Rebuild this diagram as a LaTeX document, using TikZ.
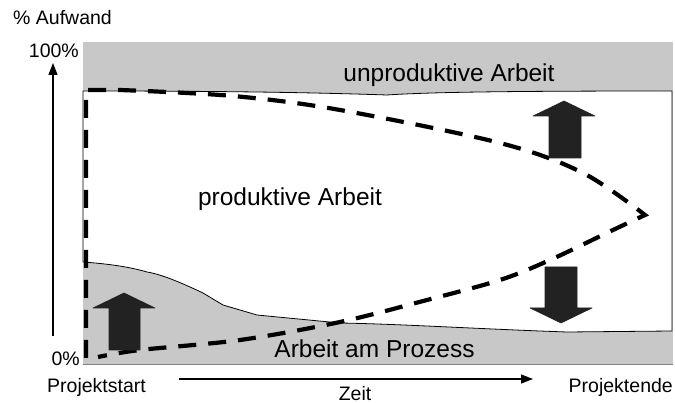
\documentclass[tikz,border=0pt]{standalone}
\usepackage{fontspec}
\setmainfont{Liberation Sans}
\usetikzlibrary{arrows.meta}
\definecolor{areagray}{RGB}{200,200,200}
\definecolor{edgegray}{RGB}{130,130,130}
\definecolor{blockdark}{RGB}{34,34,34}
\tikzset{
  boxlabel/.style={font=\fontsize{24.5}{29}\selectfont, inner sep=0pt, anchor=base},
  axislabel/.style={font=\fontsize{19.5}{23}\selectfont, inner sep=0pt},
  axisline/.style={line width=1.3pt, -{Triangle[length=12pt,width=9pt]}},
  trendline/.style={line width=4.2pt, dash pattern=on 18pt off 12pt},
  blockarrow/.style={fill=blockdark, draw=blockdark, line width=0.6pt, line join=round},
}
\begin{document}
\begin{tikzpicture}[x=1pt,y=-1pt]
  \useasboundingbox (0,0) rectangle (675,403);

  % shaded background: unproductive (top) and process work (bottom)
  \fill[areagray] (83,42) rectangle (673,364);
  \draw[edgegray, line width=0.8pt] (83,364) -- (673,364);

  % productive work region
  \draw[fill=white, line width=0.8pt]
    (83,91) .. controls (200,91) and (300,92) .. (387,95)
    .. controls (430,92) and (520,91) .. (672,91)
    -- (672,331)
    -- (567,332)
    .. controls (480,329) and (400,324) .. (340,323)
    -- (257,315) -- (223,305) -- (203,293)
    .. controls (180,282) and (160,274) .. (147,272)
    .. controls (130,267) and (110,264) .. (83,262)
    -- cycle;

  % dashed envelope
  \draw[trendline]
    (86,358) -- (86,90) -- (120,90)
    -- plot[smooth, tension=0.55] coordinates {(120,90) (233,96) (340,110) (500,143) (583,173) (645,215)}
    -- plot[smooth, tension=0.55] coordinates {(645,215) (613,230) (550,260) (500,280) (427,300) (340,322) (240,340) (140,350) (98,357)};

  % block arrows
  \draw[blockarrow] (109,350) -- (109,308) -- (93,308) -- (124,293) -- (155,308) -- (140,308) -- (140,350) -- cycle;
  \draw[blockarrow] (549,158) -- (549,116) -- (533,116) -- (564,101) -- (595,116) -- (581,116) -- (581,158) -- cycle;
  \draw[blockarrow] (545,267) -- (545,308) -- (530,308) -- (561,323) -- (592,308) -- (577,308) -- (577,267) -- cycle;

  % region labels
  \node[boxlabel] (unprod) at (449,82) {unproduktive Arbeit};
  \node[boxlabel] (prod) at (290,206) {produktive Arbeit};
  \node[boxlabel] (proc) at (374.5,358) {Arbeit am Prozess};

  % axes
  \coordinate (ybot) at (53,336);
  \coordinate (ytop) at (53,63);
  \coordinate (xleft) at (179,379);
  \coordinate (xright) at (533,379);
  \draw[axisline] (ybot) -- (ytop);
  \draw[axisline] (xleft) -- (xright);

  % axis labels
  \node[axislabel, anchor=base west] (ylab) at (13,25) {\% Aufwand};
  \node[axislabel, anchor=base east] (ymax) at (79,58) {100\%};
  \node[axislabel, anchor=base east] (ymin) at (80,366) {0\%};
  \node[axislabel, anchor=base west] (start) at (47,392) {Projektstart};
  \node[axislabel, anchor=base] (time) at (355,400) {Zeit};
  \node[axislabel, anchor=base east] (finish) at (673,392) {Projektende};
\end{tikzpicture}
\end{document}
